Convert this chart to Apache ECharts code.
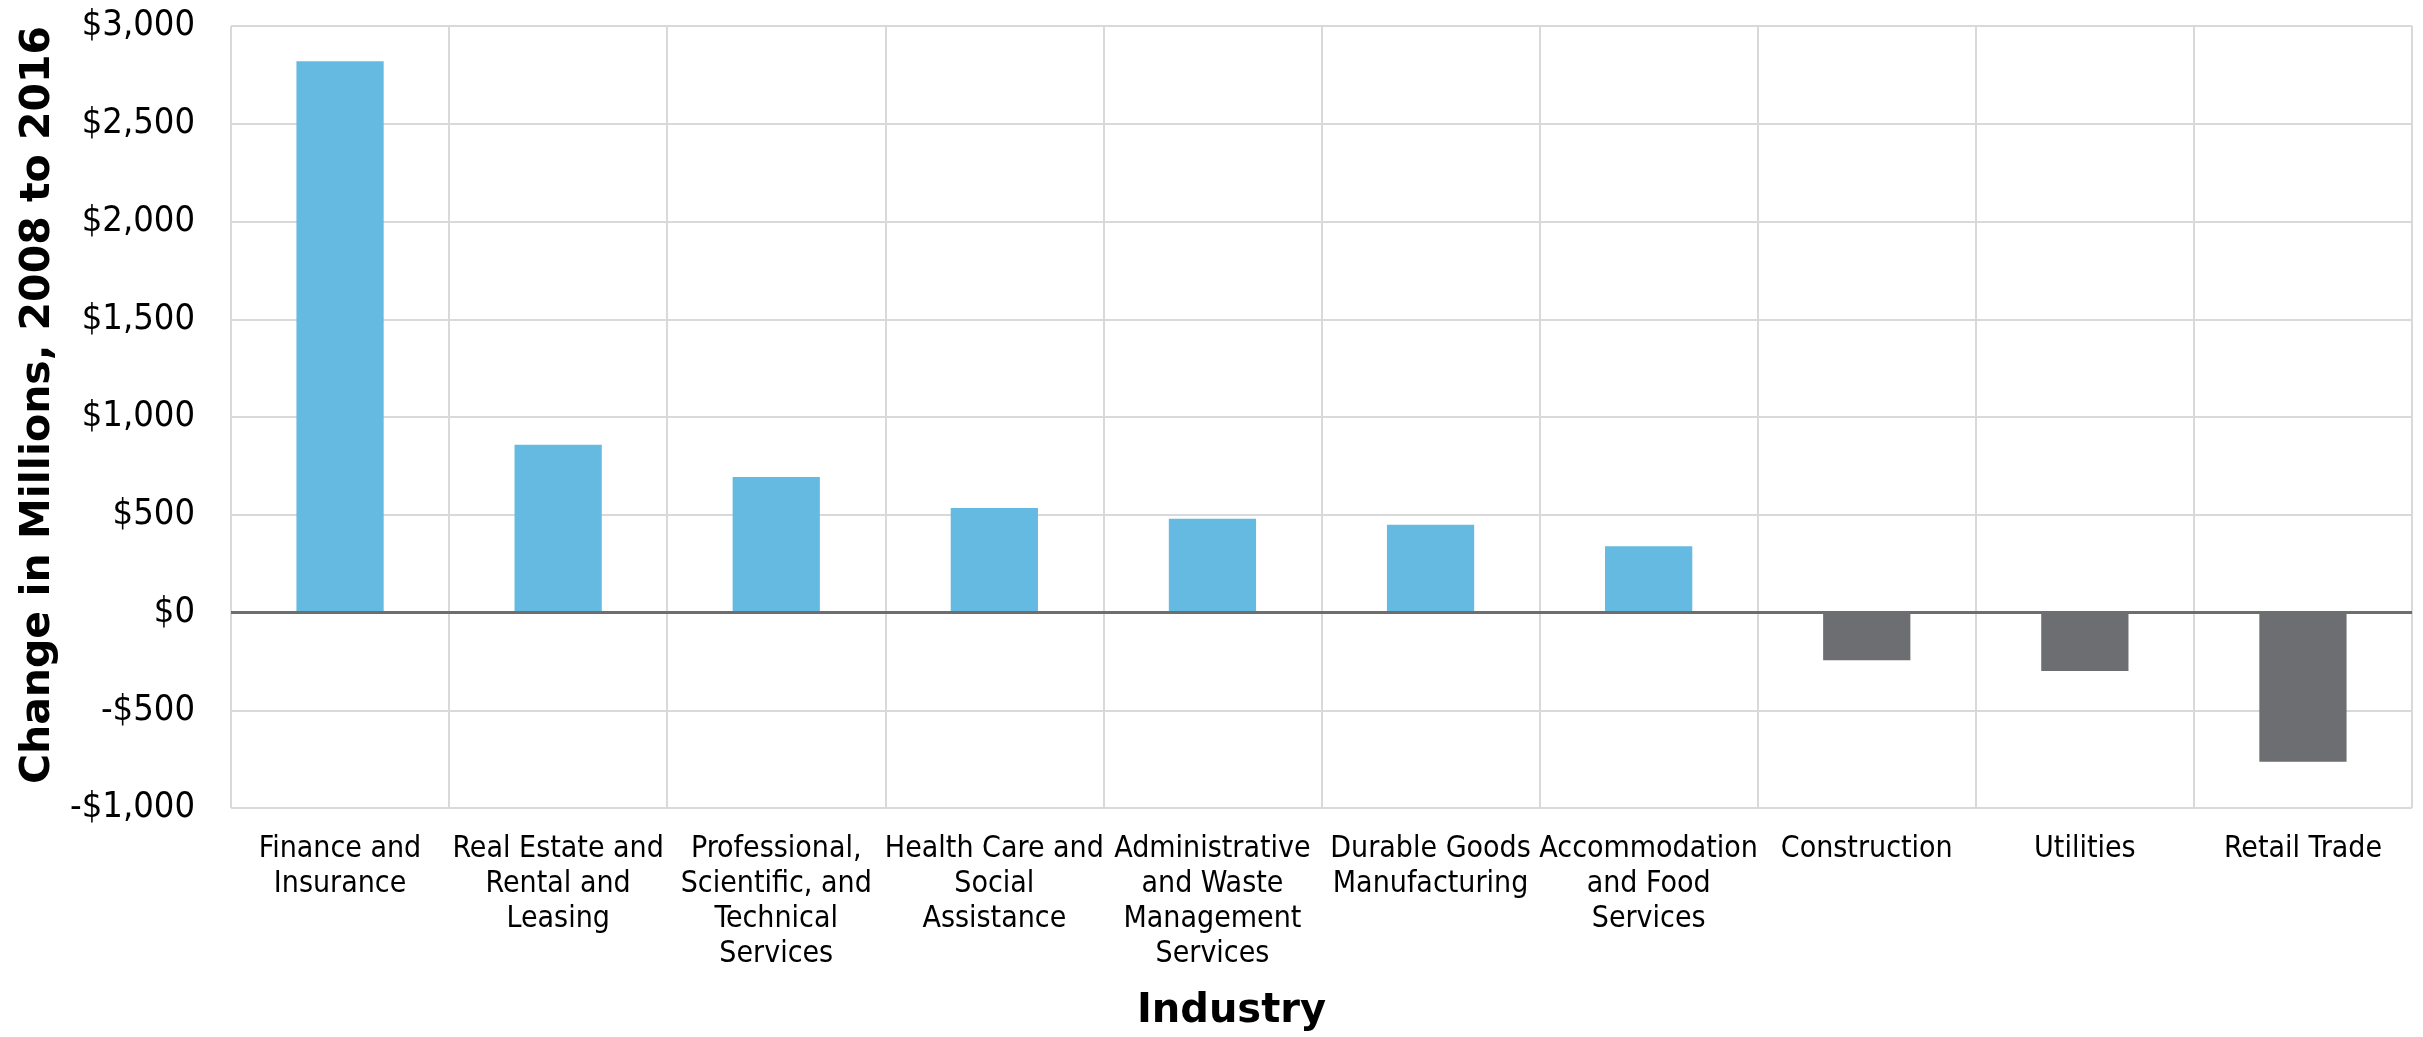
<!DOCTYPE html>
<html>
<head>
<meta charset="utf-8">
<script src="https://cdn.jsdelivr.net/npm/echarts@6/dist/echarts.min.js"></script>
<style>
html, body { margin: 0; padding: 0; background: #fff; }
#chart { width: 2423px; height: 1037px; }
</style>
</head>
<body>
<div id="chart"></div>
<script>
'use strict';

// 行业分类（含换行）
var categories = [
	'Finance and\nInsurance',
	'Real Estate and\nRental and\nLeasing',
	'Professional,\nScientific, and\nTechnical\nServices',
	'Health Care and\nSocial\nAssistance',
	'Administrative\nand Waste\nManagement\nServices',
	'Durable Goods\nManufacturing',
	'Accommodation\nand Food\nServices',
	'Construction',
	'Utilities',
	'Retail Trade'
];

// 2008-2016 变化（百万美元）
var changes = [2820, 858, 693, 535, 480, 449, 339, -244, -299, -764];

// 纵轴刻度：最小值、最大值、间隔
var yTicks = [-1000, 3000, 500];

var myChart = echarts.init(document.getElementById('chart'));

myChart.setOption({
	animation: false,
	grid: {
		left: 231,
		right: 11,
		top: 26,
		bottom: 226
	},
	xAxis: {
		type: 'category',
		data: categories,
		name: 'Industry',
		nameLocation: 'middle',
		nameGap: 184,
		nameTextStyle: {
			fontFamily: 'DejaVu Sans',
			fontWeight: 'bold',
			fontSize: 40,
			color: '#000',
			padding: [0, 180, 0, 0]
		},
		axisLine: { show: false, onZero: false },
		axisTick: { show: false },
		axisLabel: {
			interval: 0,
			margin: 24,
			fontFamily: 'DejaVu Sans Condensed',
			fontSize: 30,
			lineHeight: 35,
			color: '#000'
		},
		splitLine: {
			show: true,
			lineStyle: { color: '#d9d9d9', width: 2 }
		}
	},
	yAxis: {
		type: 'value',
		min: yTicks[0],
		max: yTicks[1],
		interval: yTicks[2],
		name: 'Change in Millions, 2008 to 2016',
		nameLocation: 'middle',
		nameRotate: 90,
		nameGap: 170,
		nameTextStyle: {
			fontFamily: 'DejaVu Sans',
			fontWeight: 'bold',
			fontSize: 41,
			color: '#000',
			padding: [0, 0, 0, 24]
		},
		axisLine: { show: false },
		axisTick: { show: false },
		axisLabel: {
			margin: 36,
			fontFamily: 'DejaVu Sans Condensed',
			fontSize: 36,
			color: '#000',
			formatter: function (v) {
				var s = '$' + Math.abs(v).toLocaleString('en-US');
				return v < 0 ? '-' + s : s;
			}
		},
		splitLine: {
			lineStyle: { color: '#d9d9d9', width: 2 }
		}
	},
	series: [{
		type: 'bar',
		data: changes,
		barWidth: '40%',
		itemStyle: {
			color: function (p) {
				return p.value >= 0 ? '#64bae0' : '#6d6e71';
			}
		},
		markLine: {
			silent: true,
			symbol: 'none',
			label: { show: false },
			lineStyle: { color: '#6e6e6e', width: 3, type: 'solid' },
			data: [{ yAxis: 0 }]
		}
	}]
});
</script>
</body>
</html>
